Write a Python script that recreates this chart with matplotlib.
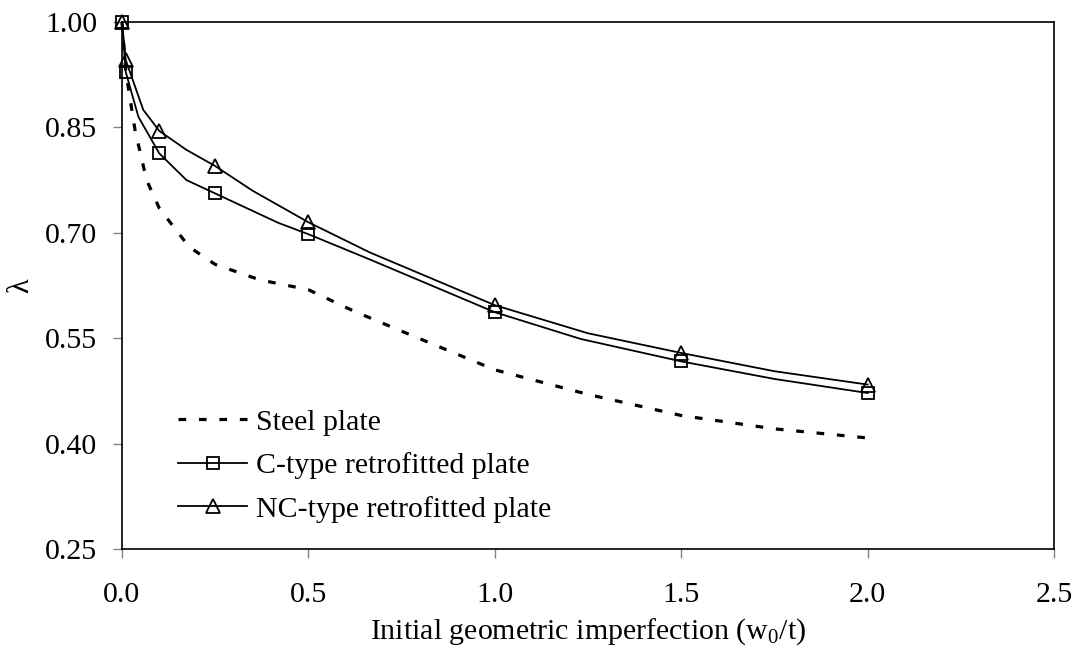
import matplotlib
matplotlib.use('Agg')
import matplotlib.pyplot as plt

# Data
steel_x = [0, 0.01, 0.035, 0.066, 0.1, 0.18, 0.25, 0.37, 0.5, 0.62, 0.75, 1.0, 1.25, 1.5, 1.75, 2.0]
steel_y = [1.0, 0.93, 0.846, 0.775, 0.735, 0.68, 0.655, 0.633, 0.619, 0.589, 0.56, 0.505, 0.47, 0.44, 0.421, 0.408]

c_x = [0, 0.01, 0.044, 0.1, 0.173, 0.25, 0.42, 0.5, 0.665, 1.0, 1.23, 1.5, 1.75, 2.0]
c_y = [1.0, 0.929, 0.865, 0.813, 0.775, 0.756, 0.714, 0.698, 0.662, 0.587, 0.549, 0.517, 0.492, 0.472]

nc_x = [0, 0.01, 0.057, 0.1, 0.173, 0.25, 0.35, 0.5, 0.665, 1.0, 1.25, 1.5, 1.75, 2.0]
nc_y = [1.0, 0.946, 0.875, 0.845, 0.818, 0.795, 0.76, 0.715, 0.672, 0.597, 0.557, 0.529, 0.503, 0.484]

# points that carry a marker
marked = [0, 1, 3, 5, 7, 9, 11, 13]

labels = ['Steel plate', 'C-type retrofitted plate', 'NC-type retrofitted plate']
x_ticks = [0.0, 0.5, 1.0, 1.5, 2.0, 2.5]
y_ticks = [0.25, 0.40, 0.55, 0.70, 0.85, 1.00]

plt.rcParams['font.family'] = ['Liberation Serif', 'DejaVu Serif']
plt.rcParams['mathtext.fontset'] = 'custom'
plt.rcParams['mathtext.rm'] = 'Liberation Serif'
plt.rcParams['mathtext.it'] = 'Liberation Serif:italic'

fs = 21.5

fig = plt.figure(figsize=(10.74, 6.49), dpi=100)
ax = fig.add_axes([122 / 1074, 1 - 549 / 649, 932 / 1074, 527 / 649])

ax.plot(steel_x, steel_y, color='black', lw=2.3, dashes=(2.4, 4.0),
        label=labels[0], clip_on=False)
ax.plot(c_x, c_y, color='black', lw=1.3, marker='s', markevery=marked,
        markersize=9, markerfacecolor='none', markeredgewidth=1.3,
        label=labels[1], clip_on=False)
ax.plot(nc_x, nc_y, color='black', lw=1.3, marker='^', markevery=marked,
        markersize=10, markerfacecolor='none', markeredgewidth=1.3,
        label=labels[2], clip_on=False)

ax.set_xlim(0, 2.5)
ax.set_ylim(0.25, 1.0)
ax.set_xticks(x_ticks)
ax.set_yticks(y_ticks)
ax.set_xticklabels([f'{v:.1f}' for v in x_ticks])
ax.set_yticklabels([f'{v:.2f}' for v in y_ticks])
ax.tick_params(direction='out', length=6.5, width=1, color='#808080',
               labelsize=fs)
ax.tick_params(axis='x', pad=17)
ax.tick_params(axis='y', pad=11.5)

for s in ax.spines.values():
    s.set_color('black')
    s.set_linewidth(1.2)

ax.set_xlabel(r'Initial geometric imperfection (w$_\mathrm{0}$/t)', fontsize=fs, labelpad=6)
ax.set_ylabel('λ', fontsize=22, labelpad=7)

ax.legend(loc='lower left', bbox_to_anchor=(0.060, 0.05), frameon=False,
          fontsize=fs, handlelength=2.33, handletextpad=0.3,
          labelspacing=0.55, borderpad=0, borderaxespad=0)

fig.savefig('out.png', dpi=100)
